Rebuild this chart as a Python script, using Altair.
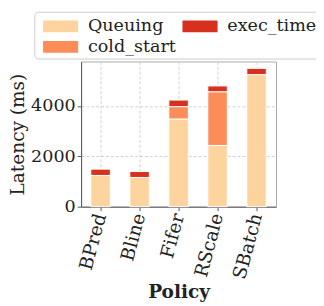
import altair as alt
import pandas as pd

policies = ["BPred", "Bline", "Fifer", "RScale", "SBatch"]
queuing = [1240, 1160, 3480, 2430, 5240]
cold_start = [0, 0, 490, 2130, 0]
exec_time = [250, 235, 260, 230, 245]
components = ["Queuing", "cold_start", "exec_time"]
colors = ["#fdd49e", "#fc8d59", "#d7301f"]
y_ticks = [0, 2000, 4000]

rows = []
for i, p in enumerate(policies):
    for k, (name, vals) in enumerate(zip(components, [queuing, cold_start, exec_time])):
        if vals[i] > 0:
            rows.append({"Policy": p, "component": name, "value": vals[i], "k": k})
df = pd.DataFrame(rows)

FONT = "DejaVu Serif"

chart = alt.Chart(df).mark_bar(stroke="white", strokeWidth=1).encode(
    x=alt.X("Policy:N", sort=policies,
            scale=alt.Scale(paddingInner=0.5, paddingOuter=0.25),
            axis=alt.Axis(title="Policy", labelAngle=-75, labelFontSize=19,
                          titleFontSize=19, titleFontWeight="bold", labelPadding=3,
                          titlePadding=2)),
    y=alt.Y("value:Q", stack="zero",
            scale=alt.Scale(domain=[0, 5760], nice=False),
            axis=alt.Axis(title="Latency (ms)", values=y_ticks, format="d",
                          labelFontSize=18, titleFontSize=19, titleFontWeight="normal",
                          labelPadding=2, titlePadding=3)),
    color=alt.Color("component:N",
                    scale=alt.Scale(domain=components, range=colors),
                    legend=alt.Legend(title=None, orient="none", legendX=-48, legendY=-51,
                                      columns=2, symbolType="M-0.5,-0.5H2.5V0.5H-0.5Z",
                                      symbolSize=576, symbolStrokeWidth=0,
                                      labelFontSize=18, labelFont=FONT, labelOffset=28,
                                      columnPadding=-2, rowPadding=-9, padding=3,
                                      fillColor="white", strokeColor="#cccccc",
                                      cornerRadius=4, labelColor="#222222")),
    order=alt.Order("k:Q"),
).properties(
    width=200, height=149,
    autosize=alt.AutoSizeParams(type="none"),
    padding={"left": 75, "top": 51, "right": 41, "bottom": 98},
).configure(
    font=FONT,
).configure_legend(
    labelFont=FONT,
).configure_axis(
    labelFont=FONT, titleFont=FONT, labelColor="#222222", titleColor="#222222",
    domainColor="#555555", tickColor="#555555", tickSize=4,
    gridColor="#d0d0d0", gridDash=[3, 2], grid=True,
).configure_view(
    stroke="#aaaaaa", strokeWidth=1,
)

chart.save("out.html", embed_options={"renderer": "svg", "actions": False})
